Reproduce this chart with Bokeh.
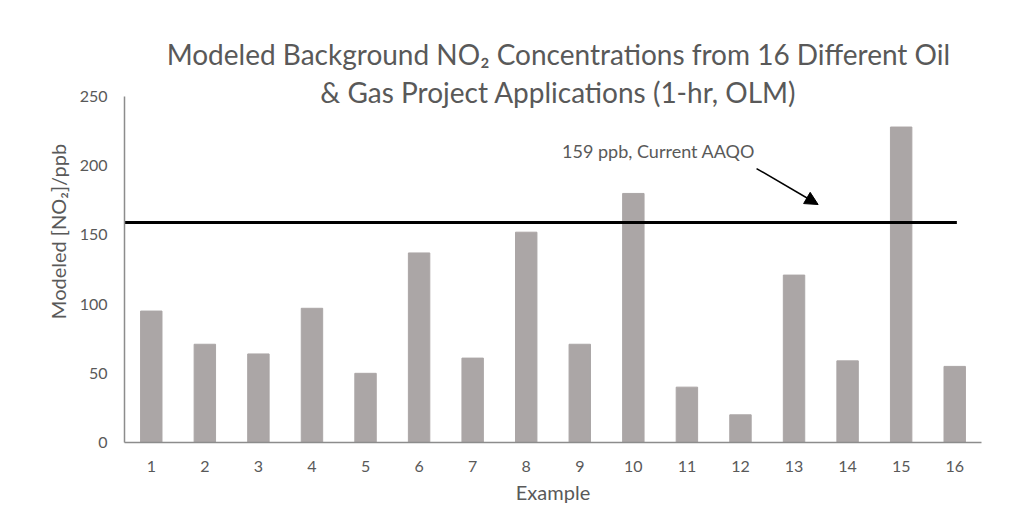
from bokeh.plotting import figure
from bokeh.models import Range1d, FixedTicker, Arrow, NormalHead, Label
from bokeh.embed import file_html
from bokeh.resources import INLINE

examples = list(range(1, 17))
no2_ppb = [95, 71, 64, 97, 50, 137, 61, 152, 71, 180, 40, 20, 121, 59, 228, 55]
aaqo_ppb = 159
y_ticks = [0, 50, 100, 150, 200, 250]
title_lines = ["Modeled Background NO₂ Concentrations from 16 Different Oil",
               "& Gas Project Applications (1-hr, OLM)"]

FONT = "Lato"
GREY = "#595959"

p = figure(frame_width=857, frame_height=422, output_backend="svg", toolbar_location=None,
           x_range=Range1d(0.5, 16.5), y_range=Range1d(0, 305),
           min_border_left=124, min_border_right=22, min_border_top=20, min_border_bottom=56,
           title=None)
p.outline_line_color = None
p.background_fill_color = "white"
p.border_fill_color = "white"

p.vbar(x=examples, top=no2_ppb, width=0.4, color="#ABA6A6")
p.line(x=[0.5, 16.04], y=[aaqo_ppb, aaqo_ppb], line_color="black", line_width=3)

p.add_layout(Arrow(end=NormalHead(size=13, fill_color="black", line_color="black"),
                   x_start=12.3, y_start=198, x_end=13.45, y_end=172,
                   line_color="black", line_width=1.5))
p.add_layout(Label(x=8.67, y=211, text=f"{aaqo_ppb} ppb, Current AAQO", text_font=FONT,
                   text_font_size="18px", text_color=GREY, text_baseline="middle"))

for line_text, ypos in zip(title_lines, [280.5, 253.0]):
    p.add_layout(Label(x=8.6, y=ypos, text=line_text, text_font=FONT, text_font_size="28px",
                       text_color=GREY, text_align="center", text_baseline="middle"))

p.xgrid.grid_line_color = None
p.ygrid.grid_line_color = None

p.xaxis.ticker = FixedTicker(ticks=examples)
p.yaxis.ticker = FixedTicker(ticks=y_ticks)
p.yaxis.bounds = (0, 250)
for ax in (p.xaxis, p.yaxis):
    ax.major_tick_line_color = None
    ax.minor_tick_line_color = None
    ax.axis_line_color = "#8c8c8c"
    ax.axis_line_width = 1.5
    ax.major_label_text_font = FONT
    ax.major_label_text_font_size = "16px"
    ax.major_label_text_color = GREY
    ax.axis_label_text_font = FONT
    ax.axis_label_text_font_size = "20px"
    ax.axis_label_text_font_style = "normal"
    ax.axis_label_text_color = GREY
p.xaxis.axis_label = "Example"
p.yaxis.axis_label = "Modeled [NO₂]/ppb"
p.xaxis.major_label_standoff = 12
p.yaxis.major_label_standoff = 11
p.xaxis.axis_label_standoff = 5
p.yaxis.axis_label_standoff = 7

open("out.html", "w").write(file_html(p, INLINE))
